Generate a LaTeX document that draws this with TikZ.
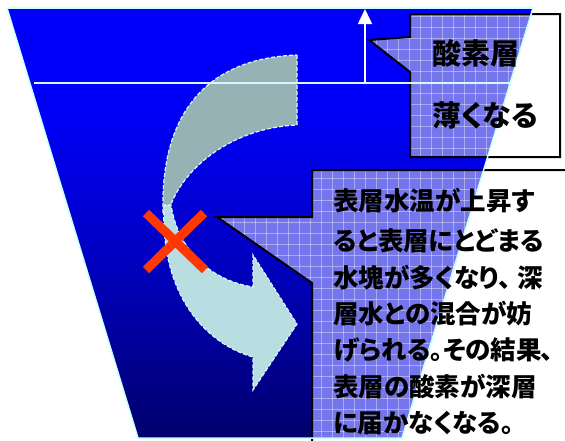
\documentclass[tikz,border=0pt]{standalone}
\usepackage{fontspec}
\newfontfamily\jp[RawFeature=+palt]{Noto Sans CJK JP}
\usetikzlibrary{arrows.meta}
\definecolor{navbot}{RGB}{0,0,108}
\definecolor{navmid}{RGB}{0,0,190}
\definecolor{brblue}{RGB}{0,0,250}
\definecolor{edgecyan}{RGB}{200,255,255}
\definecolor{grayarr}{RGB}{150,178,180}
\definecolor{cyanarr}{RGB}{185,222,226}
\definecolor{dashcol}{RGB}{215,248,252}
\definecolor{calfill}{RGB}{118,118,236}
\definecolor{xred}{RGB}{255,55,0}
\pgfdeclareverticalshading{seashade}{100bp}{color(0bp)=(navbot); color(25bp)=(navbot); color(45bp)=(navmid); color(64bp)=(brblue); color(100bp)=(brblue)}
\tikzset{
  calloutline/.style={draw=black, line width=2pt, line join=miter},
  bodytext/.style={font=\jp\bfseries\fontsize{25.5}{30}\selectfont, anchor=west, inner sep=0pt, text=black},
  headtext/.style={font=\jp\bfseries\fontsize{29}{34}\selectfont, anchor=west, inner sep=0pt, text=black},
  arrowshape/.style={draw=dashcol, line width=1.2pt, dash pattern=on 4pt off 2pt},
  gridline/.style={white, opacity=0.38, line width=0.7pt},
}
\begin{document}
\begin{tikzpicture}[x=1pt,y=-1pt]
\useasboundingbox (0,0) rectangle (565,440);
\clip (0,0) rectangle (565,440);
% basin
\def\trap{(7,8) -- (533,8) -- (402,438) -- (138,438) -- cycle}
\shade[shading=seashade] \trap;
% grey upper part of the curved arrow
\fill[grayarr] (297,55) -- (297,125) .. controls (230,128) and (180,170) .. (168,213)
   -- (163,213) .. controls (160,110) and (210,58) .. (297,55) -- cycle;
\draw[arrowshape] (297,55) -- (297,125) .. controls (230,128) and (180,170) .. (168,213);
\draw[arrowshape] (163,213) .. controls (160,110) and (210,58) .. (297,55);
% light cyan lower part of the curved arrow
\path[fill=cyanarr, arrowshape] (164,205) .. controls (160,300) and (210,345) .. (253,357)
   -- (253,390) -- (297,324) -- (253,255) -- (253,287)
   .. controls (210,280) and (178,250) .. (171,205) -- cycle;
% red cross
\coordinate (xa) at (146,213); \coordinate (xb) at (205,270);
\coordinate (xc) at (204,213); \coordinate (xd) at (146,270);
\draw[xred, line width=9pt] (xa) -- (xb);
\draw[xred, line width=9pt] (xc) -- (xd);
% callout fills (patterned inside the basin only)
\def\calA{(410,14) -- (560,14) -- (560,157) -- (410,157) -- (410,72) -- (369,40) -- (410,37) -- cycle}
\def\calB{(312,170) -- (575,170) -- (575,455) -- (312,455) -- (312,283) -- (217,217) -- (312,217) -- cycle}
\begin{scope}
  \clip \trap;
  \begin{scope}
    \clip \calA;
    \fill[calfill] (360,0) rectangle (565,170);
    \foreach \i in {0,...,20} {\draw[gridline] (365+11*\i,0) -- (365+11*\i,170);}
    \foreach \j in {0,...,16} {\draw[gridline] (360,5+11*\j) -- (565,5+11*\j);}
  \end{scope}
  \begin{scope}
    \clip \calB;
    \fill[calfill] (210,165) rectangle (565,440);
    \foreach \i in {0,...,32} {\draw[gridline] (211+11*\i,165) -- (211+11*\i,440);}
    \foreach \j in {0,...,26} {\draw[gridline] (210,167+11*\j) -- (565,167+11*\j);}
  \end{scope}
\end{scope}
\draw[calloutline] \calA;
\draw[calloutline] \calB;
% basin outline
\draw[edgecyan, line width=1.5pt] \trap;
% surface line and rising arrow
\coordinate (lineL) at (34,83); \coordinate (lineR) at (510,83);
\draw[dashcol, line width=1.6pt] (lineL) -- (lineR);
\coordinate (upA) at (365,83); \coordinate (upB) at (365,9);
\draw[white, line width=1.6pt, -{Triangle[width=14pt,length=15pt]}] (upA) -- (upB);
% texts
\node[headtext] (h1) at (432,53) {酸素層};
\node[headtext] (h2) at (432,115) {薄くなる};
\node[bodytext] (b1) at (333,201) {表層水温が上昇す};
\node[bodytext] (b2) at (333,241) {ると表層にとどまる};
\node[bodytext] (b3) at (333,278) {水塊が多くなり、\kern7pt 深};
\node[bodytext] (b4) at (333,314) {層水との混合が妨};
\node[bodytext] (b5) at (333,350) {げられる。その結果\kern-1pt 、};
\node[bodytext] (b6) at (333,387) {表層の酸素が深層};
\node[bodytext] (b7) at (333,423) {に届かなくなる。};
\end{tikzpicture}
\end{document}
